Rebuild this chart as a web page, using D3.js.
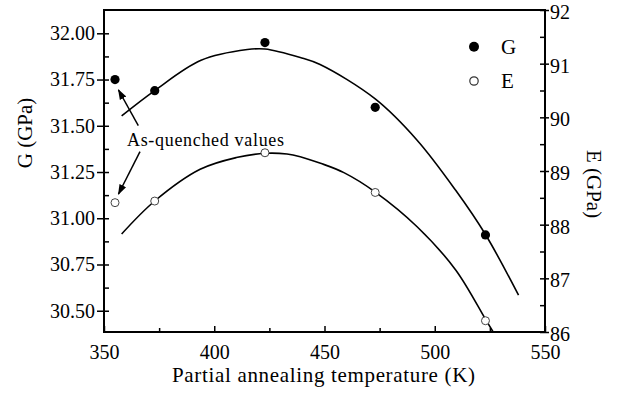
<!DOCTYPE html>
<html>
<head>
<meta charset="utf-8">
<script src="https://cdn.jsdelivr.net/npm/d3@7"></script>
<style>
  html, body { margin: 0; padding: 0; background: #fff; }
  svg { display: block; }
</style>
</head>
<body>
<svg id="chart" width="623" height="394" font-family="Liberation Serif, Times New Roman, serif"></svg>
<script>
// Measured moduli after partial annealing (first point = as-quenched state)
const temps = [355, 373, 423, 473, 523];
const gValues = [31.75, 31.69, 31.95, 31.60, 30.91];
const eValues = [88.41, 88.44, 89.34, 88.60, 86.21];

// Fitted trend curves (temperature, modulus)
const gFitT = [358, 373, 394, 415, 423, 439, 448, 473, 492, 509.5, 523, 538];
const gFitV = [31.553, 31.69, 31.854, 31.912, 31.915, 31.869, 31.831, 31.645, 31.422, 31.151, 30.912, 30.584];
const eFitT = [358, 373, 393.6, 410, 423, 433, 439, 448.2, 458.8, 473.2, 492, 509.5, 523.2, 526.5];
const eFitV = [87.826, 88.441, 89.032, 89.25, 89.33, 89.317, 89.267, 89.144, 88.97, 88.603, 87.962, 87.156, 86.224, 86.0];

// Axis ticks
const xMajor = [350, 400, 450, 500, 550];
const xMinor = [375, 425, 475, 525];
const gMajor = [30.50, 30.75, 31.00, 31.25, 31.50, 31.75, 32.00];
const gMinor = [30.625, 30.875, 31.125, 31.375, 31.625, 31.875];
const eMajor = [86, 87, 88, 89, 90, 91, 92];
const eMinor = [86.5, 87.5, 88.5, 89.5, 90.5, 91.5];

const SERIF = "Liberation Serif, Times New Roman, serif";
const svg = d3.select("#chart");
const L = 104, R = 545, T = 10, B = 332;

const x = d3.scaleLinear().domain([350, 550]).range([L, R]);
const yG = d3.scaleLinear().domain([30.385, 32.126]).range([B, T]);
const yE = d3.scaleLinear().domain([86, 92]).range([B, T]);

const FS = 20;

// Clip for curves
svg.append("clipPath").attr("id", "plotClip")
  .append("rect").attr("x", L).attr("y", T).attr("width", R - L).attr("height", B - T);

// Left axis: outward majors with labels, inward majors+minors
const leftOut = svg.append("g").attr("transform", `translate(${L},0)`)
  .call(d3.axisLeft(yG).tickValues(gMajor).tickSize(7).tickPadding(2).tickFormat(d3.format(".2f")));
const leftIn = svg.append("g").attr("transform", `translate(${L},0)`)
  .call(d3.axisLeft(yG).tickValues(gMajor.concat(gMinor)).tickSize(-5).tickFormat(""));

// Right axis
const rightOut = svg.append("g").attr("transform", `translate(${R},0)`)
  .call(d3.axisRight(yE).tickValues(eMajor).tickSize(4).tickPadding(1).tickFormat(d3.format("d")));
const rightIn = svg.append("g").attr("transform", `translate(${R},0)`)
  .call(d3.axisRight(yE).tickValues(eMajor.concat(eMinor)).tickSize(-5).tickFormat(""));

// Bottom axis: inward ticks
const bottomMaj = svg.append("g").attr("transform", `translate(0,${B})`)
  .call(d3.axisBottom(x).tickValues(xMajor).tickSize(-6).tickPadding(13).tickFormat(d3.format("d")));
const bottomMin = svg.append("g").attr("transform", `translate(0,${B})`)
  .call(d3.axisBottom(x).tickValues(xMinor).tickSize(-4).tickFormat(""));

[leftOut, leftIn, rightOut, rightIn, bottomMaj, bottomMin].forEach(g => {
  g.attr("font-family", SERIF).attr("font-size", FS);
  g.select(".domain").remove();
  g.selectAll("line").attr("stroke", "#000").attr("stroke-width", 1.5);
  g.selectAll("text").attr("fill", "#000");
});
rightOut.selectAll("text").attr("dy", "0.42em");

// Frame
svg.append("rect").attr("x", L).attr("y", T).attr("width", R - L).attr("height", B - T)
  .attr("fill", "none").attr("stroke", "#000").attr("stroke-width", 2);

// Fitted curves
const gFit = gFitT.map((t, i) => [t, gFitV[i]]);
const eFit = eFitT.map((t, i) => [t, eFitV[i]]);
const plot = svg.append("g").attr("clip-path", "url(#plotClip)");
plot.append("path").datum(gFit)
  .attr("d", d3.line().x(d => x(d[0])).y(d => yG(d[1])).curve(d3.curveCatmullRom.alpha(0.5)))
  .attr("fill", "none").attr("stroke", "#000").attr("stroke-width", 1.6);
plot.append("path").datum(eFit)
  .attr("d", d3.line().x(d => x(d[0])).y(d => yE(d[1])).curve(d3.curveCatmullRom.alpha(0.5)))
  .attr("fill", "none").attr("stroke", "#000").attr("stroke-width", 1.6);

// Data markers
svg.append("g").selectAll("circle").data(temps).join("circle")
  .attr("cx", d => x(d)).attr("cy", (d, i) => yG(gValues[i])).attr("r", 4.6)
  .attr("fill", "#000");
svg.append("g").selectAll("circle").data(temps).join("circle")
  .attr("cx", d => x(d)).attr("cy", (d, i) => yE(eValues[i])).attr("r", 4)
  .attr("fill", "#fff").attr("stroke", "#444").attr("stroke-width", 1);

// Legend
const lg = svg.append("g").attr("font-family", SERIF).attr("font-size", 21);
lg.append("circle").attr("cx", 474).attr("cy", 46.7).attr("r", 5).attr("fill", "#000");
lg.append("text").attr("x", 501).attr("y", 46.7).attr("dy", "0.35em").text("G");
lg.append("circle").attr("cx", 474).attr("cy", 81).attr("r", 4.2).attr("fill", "#fff").attr("stroke", "#333").attr("stroke-width", 1.2);
lg.append("text").attr("x", 501).attr("y", 81).attr("dy", "0.35em").text("E");

// Annotation with arrows toward the as-quenched points
svg.append("defs").append("marker").attr("id", "arrowHead")
  .attr("viewBox", "0 0 10 10").attr("refX", 9).attr("refY", 5)
  .attr("markerWidth", 7).attr("markerHeight", 7).attr("orient", "auto")
  .append("path").attr("d", "M0,1.5 L10,5 L0,8.5 Z").attr("fill", "#000");
svg.append("line").attr("x1", 138.3).attr("y1", 125.7).attr("x2", 118.5).attr("y2", 90)
  .attr("stroke", "#000").attr("stroke-width", 1.5).attr("marker-end", "url(#arrowHead)");
svg.append("line").attr("x1", 140).attr("y1", 151.7).attr("x2", 118.5).attr("y2", 194)
  .attr("stroke", "#000").attr("stroke-width", 1.5).attr("marker-end", "url(#arrowHead)");
svg.append("text").attr("x", 127).attr("y", 145.7)
  .attr("font-family", SERIF).attr("font-size", 18)
  .attr("textLength", 157).attr("lengthAdjust", "spacing")
  .text("As-quenched values");

// Axis titles
svg.append("text").attr("x", 323.5).attr("y", 382).attr("text-anchor", "middle")
  .attr("font-family", SERIF).attr("font-size", 21)
  .attr("textLength", 303).attr("lengthAdjust", "spacing")
  .text("Partial annealing temperature (K)");
svg.append("text").attr("transform", "translate(32,133) rotate(-90)").attr("text-anchor", "middle")
  .attr("font-family", SERIF).attr("font-size", 21).text("G (GPa)");
svg.append("text").attr("transform", "translate(587,184) rotate(90)").attr("text-anchor", "middle")
  .attr("font-family", SERIF).attr("font-size", 21).text("E (GPa)");
</script>
</body>
</html>
